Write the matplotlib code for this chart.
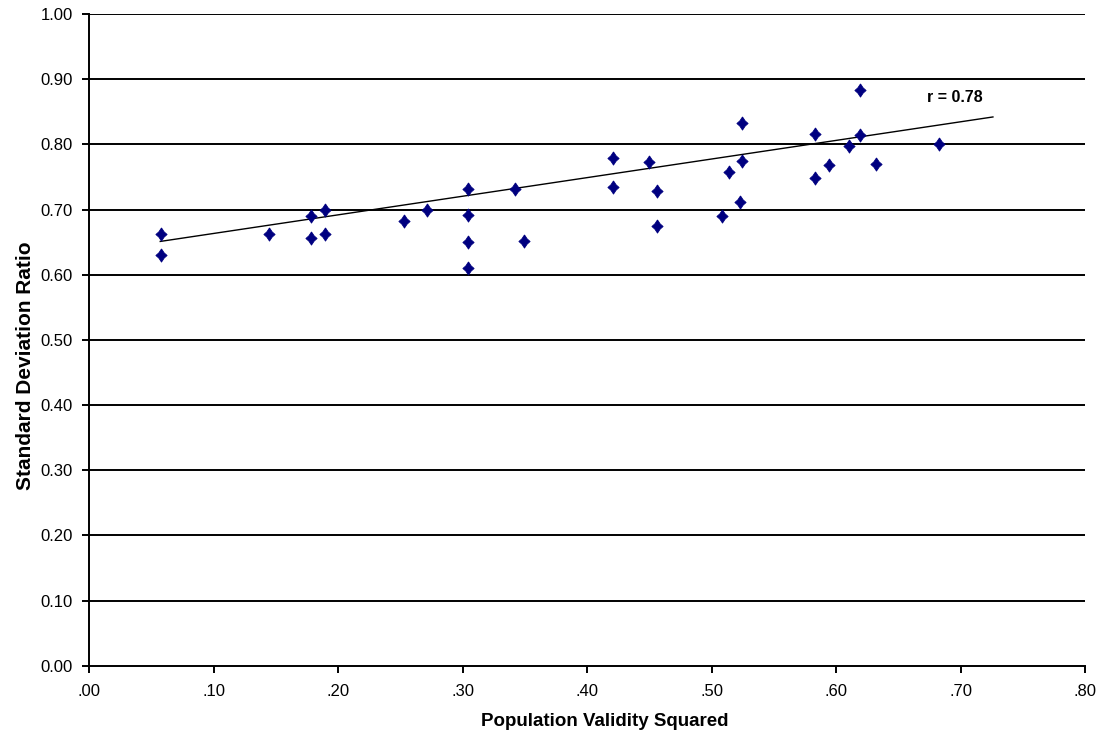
import numpy as np
import matplotlib
matplotlib.use("Agg")
import matplotlib.pyplot as plt
from matplotlib.ticker import FixedLocator

# =========================================================
# DATA
# =========================================================
validity_sq = [0.058, 0.058, 0.144, 0.178, 0.178, 0.189, 0.189, 0.253, 0.271,
               0.304, 0.304, 0.304, 0.304, 0.342, 0.349, 0.421, 0.421, 0.450,
               0.456, 0.456, 0.508, 0.514, 0.523, 0.524, 0.524, 0.583, 0.583,
               0.594, 0.610, 0.619, 0.619, 0.632, 0.683]
sd_ratio = [0.662, 0.630, 0.662, 0.690, 0.656, 0.699, 0.662, 0.683, 0.699,
            0.732, 0.692, 0.650, 0.610, 0.731, 0.652, 0.779, 0.734, 0.773,
            0.729, 0.675, 0.690, 0.757, 0.712, 0.833, 0.774, 0.816, 0.749,
            0.768, 0.797, 0.884, 0.814, 0.770, 0.800]

trend_x = [0.057, 0.726]
trend_y = [0.651, 0.842]
r_label = "r = 0.78"

x_ticks = [0.0, 0.1, 0.2, 0.3, 0.4, 0.5, 0.6, 0.7, 0.8]
x_tick_labels = [".00", ".10", ".20", ".30", ".40", ".50", ".60", ".70", ".80"]
y_ticks = [0.0, 0.1, 0.2, 0.3, 0.4, 0.5, 0.6, 0.7, 0.8, 0.9, 1.0]
y_tick_labels = ["0.00", "0.10", "0.20", "0.30", "0.40", "0.50",
                 "0.60", "0.70", "0.80", "0.90", "1.00"]

# Excel-style diamond, sides slightly pinched
DIAMOND = [(0, 1), (0.4, 0.4), (0.85, 0), (0.4, -0.4),
           (0, -1), (-0.4, -0.4), (-0.85, 0), (-0.4, 0.4), (0, 1)]

# =========================================================
# PLOT
# =========================================================
plt.rcParams["font.family"] = ["Liberation Sans", "DejaVu Sans"]

fig = plt.figure(figsize=(11.01, 7.36), dpi=100)
ax = fig.add_axes([0.0811, 0.0955, 0.9044, 0.8855])

ax.set_xlim(0, 0.8)
ax.set_ylim(0, 1.0)

for yv in y_ticks[1:]:
    ax.axhline(yv, color="black", lw=1.4, zorder=1)

ax.plot(trend_x, trend_y, color="black", lw=1.0, zorder=2)
ax.plot(validity_sq, sd_ratio, linestyle="none", marker=DIAMOND,
        markersize=9.5, color="#000080", markeredgewidth=0.6, zorder=3)

ax.text(0.695, 0.872, r_label, fontsize=11.5, fontweight="bold",
        ha="center", va="center")

ax.xaxis.set_major_locator(FixedLocator(x_ticks))
ax.set_xticklabels(x_tick_labels)
ax.yaxis.set_major_locator(FixedLocator(y_ticks))
ax.set_yticklabels(y_tick_labels)
ax.tick_params(axis="both", direction="out", length=5, width=1.4,
               labelsize=12, color="black")
ax.tick_params(axis="x", pad=8)
ax.tick_params(axis="y", pad=7)

for side in ["top", "right"]:
    ax.spines[side].set_visible(False)
for side in ["left", "bottom"]:
    ax.spines[side].set_linewidth(1.4)

ax.set_xlabel("Population Validity Squared", fontsize=13.5, fontweight="bold")
ax.set_ylabel("Standard Deviation Ratio", fontsize=15, fontweight="bold")
ax.xaxis.set_label_coords(0.518, -0.0726)
ax.yaxis.set_label_coords(-0.055, 0.46)

fig.savefig("out.png", dpi=100)
